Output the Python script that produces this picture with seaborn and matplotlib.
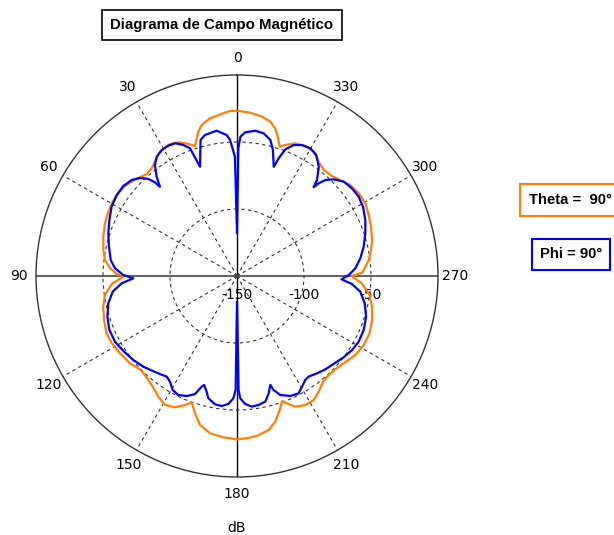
import numpy as np
import matplotlib
matplotlib.use("Agg")
import matplotlib.pyplot as plt
import seaborn as sns
from matplotlib.transforms import offset_copy

# --- data (angle in degrees, level in dB) ---
theta_ang = [0, 2.4, 4.8, 9.7, 13.2, 15, 16.3, 17.9, 20.2, 23.7, 26.9, 30, 32.8,
             35.7, 38.4, 41.5, 44.5, 47.4, 51.2, 55.1, 59.1, 63.5, 68.2, 73.6,
             79, 83.1, 86.5, 89, 90.3, 93.7, 98.2, 102.9, 108.3, 113.7, 118.2,
             123.5, 129.2, 133.9, 137.1, 142, 146.9, 150.8, 154.7, 158, 160.3,
             163, 166.1, 170.3, 175.1, 180, 183.5, 187.1, 191.6, 194.7, 197.7,
             199.8, 201.4, 204, 207.9, 211.7, 215.2, 219.1, 222.8, 226.5, 230.7,
             236.3, 241.4, 246.6, 251.9, 257.2, 261.9, 266.6, 270, 271.5, 276.9,
             281, 284.9, 290.2, 294.9, 299.5, 304.2, 308.8, 312.9, 316.5, 320.7,
             324.4, 328.3, 332.3, 336.3, 339.8, 341.7, 343.7, 345.5, 347.8,
             351.1, 355.3, 360]
theta_db = [-26.6, -26.8, -28.1, -30.6, -34.3, -38.5, -42.9, -48.1, -45.0, -41.0,
            -39.5, -40.0, -41.7, -45.0, -47.5, -48.4, -46.7, -44.9, -42.8, -42.0,
            -41.9, -42.6, -43.9, -46.0, -48.4, -50.8, -55.1, -60.2, -65.2, -56.3,
            -50.4, -47.6, -45.5, -43.7, -43.9, -45.4, -46.9, -49.6, -49.1, -46.7,
            -42.5, -39.8, -41.6, -46.2, -49.8, -42.8, -35.4, -30.9, -29.2, -28.1,
            -28.7, -29.7, -32.7, -37.6, -45.1, -50.8, -47.9, -43.2, -41.0, -41.2,
            -44.3, -48.3, -49.3, -48.9, -47.1, -43.8, -42.3, -42.2, -44.0, -46.7,
            -50.0, -56.6, -64.4, -56.5, -51.0, -48.1, -45.7, -43.4, -41.7, -39.9,
            -40.2, -41.6, -44.8, -47.1, -47.8, -45.2, -41.0, -40.4, -41.9, -45.8,
            -48.4, -41.7, -36.1, -32.2, -29.6, -27.8, -26.6]

phi_ang = [0, 1.0, 2.9, 4.2, 8, 12.8, 15, 18.7, 20.2, 22.3, 25, 27.8, 30.9, 33.9,
           36.5, 39, 40.8, 41.3, 42.4, 44.7, 47.6, 51.6, 56, 61.1, 66.3, 71.6,
           77.1, 82.8, 86.4, 89.5, 91.3, 93.6, 97.2, 102, 107.4, 112.9, 118.3,
           123.4, 129, 134.1, 140.3, 145.1, 147.6, 150.6, 153.7, 157.3, 160.4,
           162.3, 163.2, 164.8, 166.8, 170.3, 173.3, 176.1, 178.3, 179.3, 180,
           180.8, 181.5, 183.7, 186.5, 189.5, 192.7, 195.1, 197, 197.8, 200, 204,
           207.7, 210.4, 213.3, 215.5, 219.4, 223.4, 227.7, 232.7, 237.2, 241.6,
           246.9, 252.5, 257.9, 262.7, 266, 268.2, 270.5, 273.7, 278.2, 283,
           288.4, 293.6, 298.8, 303.1, 307.3, 311.5, 315, 317.4, 318.6, 319.2,
           320.2, 323.2, 326.8, 330.1, 333.6, 336.6, 339.1, 340.5, 341.4, 344.1,
           346.2, 349.4, 352.8, 356.7, 358.6, 359.4, 360]
phi_db = [-118.0, -61.0, -48.4, -44.5, -40.5, -42.1, -44.9, -63.9, -48.4, -44.3,
          -40.7, -40.1, -40.5, -42.7, -47.0, -54.7, -62.0, -56.7, -51.9, -47.1,
          -43.7, -41.8, -41.8, -43.1, -46.0, -48.8, -52.0, -55.0, -58.8, -65.1,
          -72.6, -63.8, -56.5, -51.8, -48.6, -46.6, -46.6, -48.4, -50.4, -52.7,
          -56.2, -58.4, -56.6, -52.3, -51.0, -52.9, -56.5, -63.3, -65.0, -61.9,
          -56.3, -52.8, -52.3, -54.3, -58.7, -65.0, -131.0, -65.0, -58.7, -54.3,
          -51.9, -52.4, -53.9, -59.3, -65.0, -60.6, -55.5, -52.0, -51.1, -54.2,
          -57.2, -57.8, -56.0, -54.1, -52.5, -49.9, -47.9, -46.8, -47.2, -49.0,
          -52.5, -57.2, -64.0, -72.0, -66.6, -61.5, -57.0, -53.0, -49.1, -45.5,
          -42.7, -41.6, -42.1, -43.7, -48.0, -52.7, -57.8, -62.5, -56.7, -48.1,
          -42.0, -40.1, -40.9, -43.5, -48.8, -56.8, -64.0, -52.2, -45.5, -41.7,
          -40.7, -42.6, -46.0, -55.0, -118.0]

angle_ticks = list(range(0, 360, 30))
r_rings = [-100, -50]
r_labels = [-150, -100, -50]
r_min, r_max = -150, 0

sns.set_style("white")
plt.rcParams["font.family"] = ["DejaVu Sans"]
plt.rcParams["text.color"] = "black"
plt.rcParams["xtick.color"] = "black"

box_font = ["Liberation Sans", "DejaVu Sans"]

fig = plt.figure(figsize=(6.14, 5.35), dpi=100)
ax = fig.add_axes([36 / 614, 58 / 535, 402 / 614, 402 / 535], projection="polar")
ax.set_theta_zero_location("N")
ax.set_theta_direction(1)

sns.lineplot(x=np.deg2rad(theta_ang), y=theta_db, ax=ax, sort=False, estimator=None,
             color="#ff8000", linewidth=1.6, zorder=3)
sns.lineplot(x=np.deg2rad(phi_ang), y=phi_db, ax=ax, sort=False, estimator=None,
             color="#0000ff", linewidth=1.6, zorder=4)

ax.set_ylim(r_min, r_max)
ax.set_thetagrids(angle_ticks, labels=[str(a) for a in angle_ticks], fontsize=10)
ax.set_yticks(r_rings)
ax.set_yticklabels([])
ax.grid(True, color="#333333", linestyle=(0, (3, 3)), linewidth=0.8)
ax.tick_params(axis="x", pad=1.5, colors="black")

# axis lines through the centre are solid
for ang, gl in zip(angle_ticks, ax.xaxis.get_gridlines()):
    if ang in (0, 180):
        gl.set_linestyle("-")
        gl.set_color("black")
        gl.set_linewidth(1.0)
    elif ang in (90, 270):
        gl.set_linestyle("-")
        gl.set_color("#666666")
        gl.set_linewidth(1.5)

ax.spines["polar"].set_color("#333333")
ax.spines["polar"].set_linewidth(1.0)
ax.set_xlabel("")
ax.set_ylabel("")

lab_tr = offset_copy(ax.transData, fig=fig, y=-19, units="dots")
for r in r_labels:
    ax.text(np.deg2rad(270), r, str(r), transform=lab_tr, ha="center", va="center",
            fontsize=10, zorder=2)

fig.text(222 / 614, 1 - 25 / 535, "Diagrama de Campo Magnético", ha="center",
         va="center", fontsize=10.8, fontweight="bold", family=box_font,
         bbox=dict(boxstyle="square,pad=0.55", fc="white", ec="black", lw=1.2))
fig.text(529 / 614, 1 - 200 / 535, "Theta =  90°", ha="left", va="center",
         fontsize=10.7, fontweight="bold", family=box_font,
         bbox=dict(boxstyle="square,pad=0.6", fc="white", ec="#ff8000", lw=1.5))
fig.text(540 / 614, 1 - 254.5 / 535, "Phi = 90°", ha="left", va="center",
         fontsize=10.7, fontweight="bold", family=box_font,
         bbox=dict(boxstyle="square,pad=0.55", fc="white", ec="#0000ff", lw=1.5))
fig.text(237 / 614, 1 - 528 / 535, "dB", ha="center", va="center", fontsize=10)

fig.savefig("out.png", dpi=100)
